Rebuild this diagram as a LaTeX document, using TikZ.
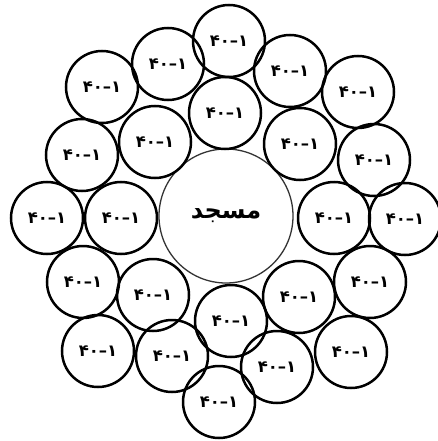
\documentclass[tikz,border=0pt]{standalone}
\usepackage{fontspec}
\TeXXeTstate=1
\newfontfamily\fafont[Script=Arabic]{DejaVu Sans}
\tikzset{
  smallc/.style={circle, draw=black, line width=2.5pt, minimum size=72pt, inner sep=0pt,
    font=\fafont\bfseries\fontsize{16.5}{16.5}\selectfont},
  bigc/.style={circle, draw=black!80, line width=1.3pt, minimum size=134pt, inner sep=0pt,
    font=\fafont\bfseries\fontsize{24}{24}\selectfont}
}
\newcommand{\lab}{\hbox{۴۰}\hbox{–}\hbox{۱}}
\begin{document}
\begin{tikzpicture}[x=1pt,y=-1pt]
\useasboundingbox (0,0) rectangle (438,441);
\node[bigc] (mosque) at (226,216) {\beginR مسجد\endR};
% outer ring
\node[smallc] (o1) at (229,41) {\lab};
\node[smallc] (o2) at (168,64) {\lab};
\node[smallc] (o3) at (290,71) {\lab};
\node[smallc] (o4) at (102,87) {\lab};
\node[smallc] (o5) at (358,92) {\lab};
\node[smallc] (o6) at (82,155) {\lab};
\node[smallc] (o7) at (374,160) {\lab};
\node[smallc] (o8) at (47,218) {\lab};
\node[smallc] (o9) at (405,219) {\lab};
\node[smallc] (o10) at (83,282) {\lab};
\node[smallc] (o11) at (370,282) {\lab};
\node[smallc] (o12) at (98,351) {\lab};
\node[smallc] (o13) at (351,352) {\lab};
\node[smallc] (o14) at (172,356) {\lab};
\node[smallc] (o15) at (277,367) {\lab};
\node[smallc] (o16) at (219,402) {\lab};
% inner ring
\node[smallc] (i1) at (225,113) {\lab};
\node[smallc] (i2) at (155,142) {\lab};
\node[smallc] (i3) at (300,144) {\lab};
\node[smallc] (i4) at (121,218) {\lab};
\node[smallc] (i5) at (334,218) {\lab};
\node[smallc] (i6) at (153,295) {\lab};
\node[smallc] (i7) at (299,297) {\lab};
\node[smallc] (i8) at (231,321) {\lab};
\end{tikzpicture}
\end{document}
